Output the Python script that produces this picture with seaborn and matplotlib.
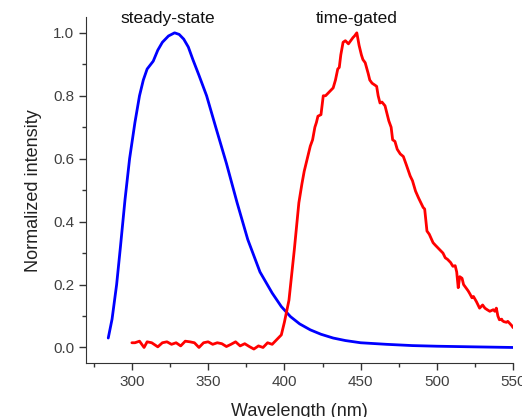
import numpy as np
import pandas as pd
import matplotlib.pyplot as plt
import seaborn as sns

# steady-state emission (blue)
ss_wl = [284.5, 287, 290, 292.5, 295.5, 298.5, 302, 305, 307.5, 310,
         314, 317, 320, 324, 328, 331, 334, 337, 340, 344,
         349, 355, 362, 369, 376, 384, 392, 398, 404, 410,
         417, 424, 432, 440, 450, 467, 484, 500, 524, 550]
ss_int = [0.03, 0.09, 0.2, 0.32, 0.47, 0.6, 0.715, 0.8, 0.85, 0.885,
          0.91, 0.945, 0.97, 0.99, 1.0, 0.995, 0.98, 0.955, 0.915, 0.865,
          0.8, 0.70, 0.585, 0.46, 0.343, 0.24, 0.173, 0.13, 0.098, 0.075,
          0.056, 0.042, 0.03, 0.022, 0.015, 0.01, 0.006, 0.004, 0.002, 0.0]

# time-gated emission (red)
tg_wl = [300, 302, 305, 308, 310, 313, 317, 320, 323, 326,
         329, 332, 335, 338, 341, 344, 347, 350, 353, 356,
         359, 362, 365, 368, 371, 374, 377, 380, 383, 386,
         389, 392, 395, 398, 400, 403, 406.5, 409.5, 411.5, 413,
         415, 417, 418.5, 420, 421, 422, 424, 425.5, 427, 429,
         431, 432, 433.5, 435, 436, 437, 438.5, 440, 442, 443.5,
         445, 446, 447.5, 449, 450.5, 451.5, 453, 455, 456, 457.5,
         459, 460.5, 461.5, 462.7, 464, 466, 467.5, 468.5, 470, 471,
         472.5, 474, 476, 478, 480, 482.5, 484, 486, 488, 491,
         492, 493.5, 495, 497.5, 499, 501, 503, 504, 505.5, 507,
         509, 510.5, 512, 513, 514, 515, 516.5, 517.5, 519, 520.5,
         521.7, 523, 524, 526, 528, 529, 530, 531.5, 533, 534.7,
         536, 537, 538, 539, 540, 541, 542.5, 543, 544, 545.6,
         546.5, 548, 549, 550]
tg_int = [0.015, 0.015, 0.02, 0.0, 0.018, 0.015, 0.002, 0.015, 0.018, 0.01,
          0.015, 0.005, 0.02, 0.018, 0.015, 0.0, 0.015, 0.018, 0.01, 0.015,
          0.012, 0.003, 0.01, 0.018, 0.005, 0.012, 0.003, -0.005, 0.005, 0.0,
          0.015, 0.01, 0.025, 0.04, 0.08, 0.15, 0.31, 0.46, 0.52, 0.56,
          0.60, 0.64, 0.66, 0.70, 0.715, 0.735, 0.74, 0.80, 0.80, 0.81,
          0.82, 0.825, 0.85, 0.885, 0.89, 0.93, 0.97, 0.975, 0.965, 0.975,
          0.985, 0.99, 1.0, 0.96, 0.93, 0.915, 0.905, 0.87, 0.85, 0.84,
          0.835, 0.83, 0.80, 0.777, 0.78, 0.768, 0.74, 0.72, 0.70, 0.66,
          0.655, 0.63, 0.615, 0.607, 0.58, 0.545, 0.53, 0.497, 0.475, 0.445,
          0.44, 0.37, 0.36, 0.333, 0.325, 0.315, 0.305, 0.30, 0.285, 0.28,
          0.27, 0.258, 0.26, 0.24, 0.19, 0.225, 0.22, 0.20, 0.19, 0.18,
          0.17, 0.158, 0.162, 0.145, 0.125, 0.13, 0.135, 0.125, 0.12, 0.115,
          0.118, 0.12, 0.115, 0.125, 0.10, 0.088, 0.09, 0.085, 0.082, 0.08,
          0.083, 0.075, 0.07, 0.063]

df = pd.concat([
    pd.DataFrame({"wl": ss_wl, "y": ss_int, "kind": "steady-state"}),
    pd.DataFrame({"wl": tg_wl, "y": tg_int, "kind": "time-gated"}),
])

sns.set_style("ticks")
plt.rcParams["font.family"] = ["Liberation Sans", "DejaVu Sans"]

fig = plt.figure(figsize=(5.22, 4.17), dpi=100)
ax = fig.add_axes([0.165, 0.129, 0.818, 0.83])

sns.lineplot(data=df, x="wl", y="y", hue="kind", palette={"steady-state": "#0000ff", "time-gated": "#ff0000"},
             linewidth=2, ax=ax, legend=False, sort=False, estimator=None)

ax.set_xlim(270, 550)
ax.set_ylim(-0.05, 1.05)
ax.set_xticks([300, 350, 400, 450, 500, 550])
ax.set_xticks([275, 325, 375, 425, 475, 525], minor=True)
ax.set_yticks([0.0, 0.2, 0.4, 0.6, 0.8, 1.0])
ax.set_yticks([0.1, 0.3, 0.5, 0.7, 0.9], minor=True)
ax.tick_params(which="both", direction="out", colors="#333333", labelcolor="#404040", labelsize=11, width=1)
ax.tick_params(which="major", length=5)
ax.tick_params(which="minor", length=3)
ax.set_yticklabels(["0.0", "0.2", "0.4", "0.6", "0.8", "1.0"])
sns.despine(ax=ax)
for s in ["left", "bottom"]:
    ax.spines[s].set_color("#333333")

ax.set_xlabel("Wavelength (nm)", fontsize=13, color="#222222", labelpad=10)
ax.set_ylabel("Normalized intensity", fontsize=13, color="#222222", labelpad=8)

ax.text(323.5, 1.047, "steady-state", ha="center", va="center", fontsize=12.5, color="#111111", clip_on=False)
ax.text(447.5, 1.045, "time-gated", ha="center", va="center", fontsize=12.5, color="#111111", clip_on=False)

fig.savefig("out.png", dpi=100)
